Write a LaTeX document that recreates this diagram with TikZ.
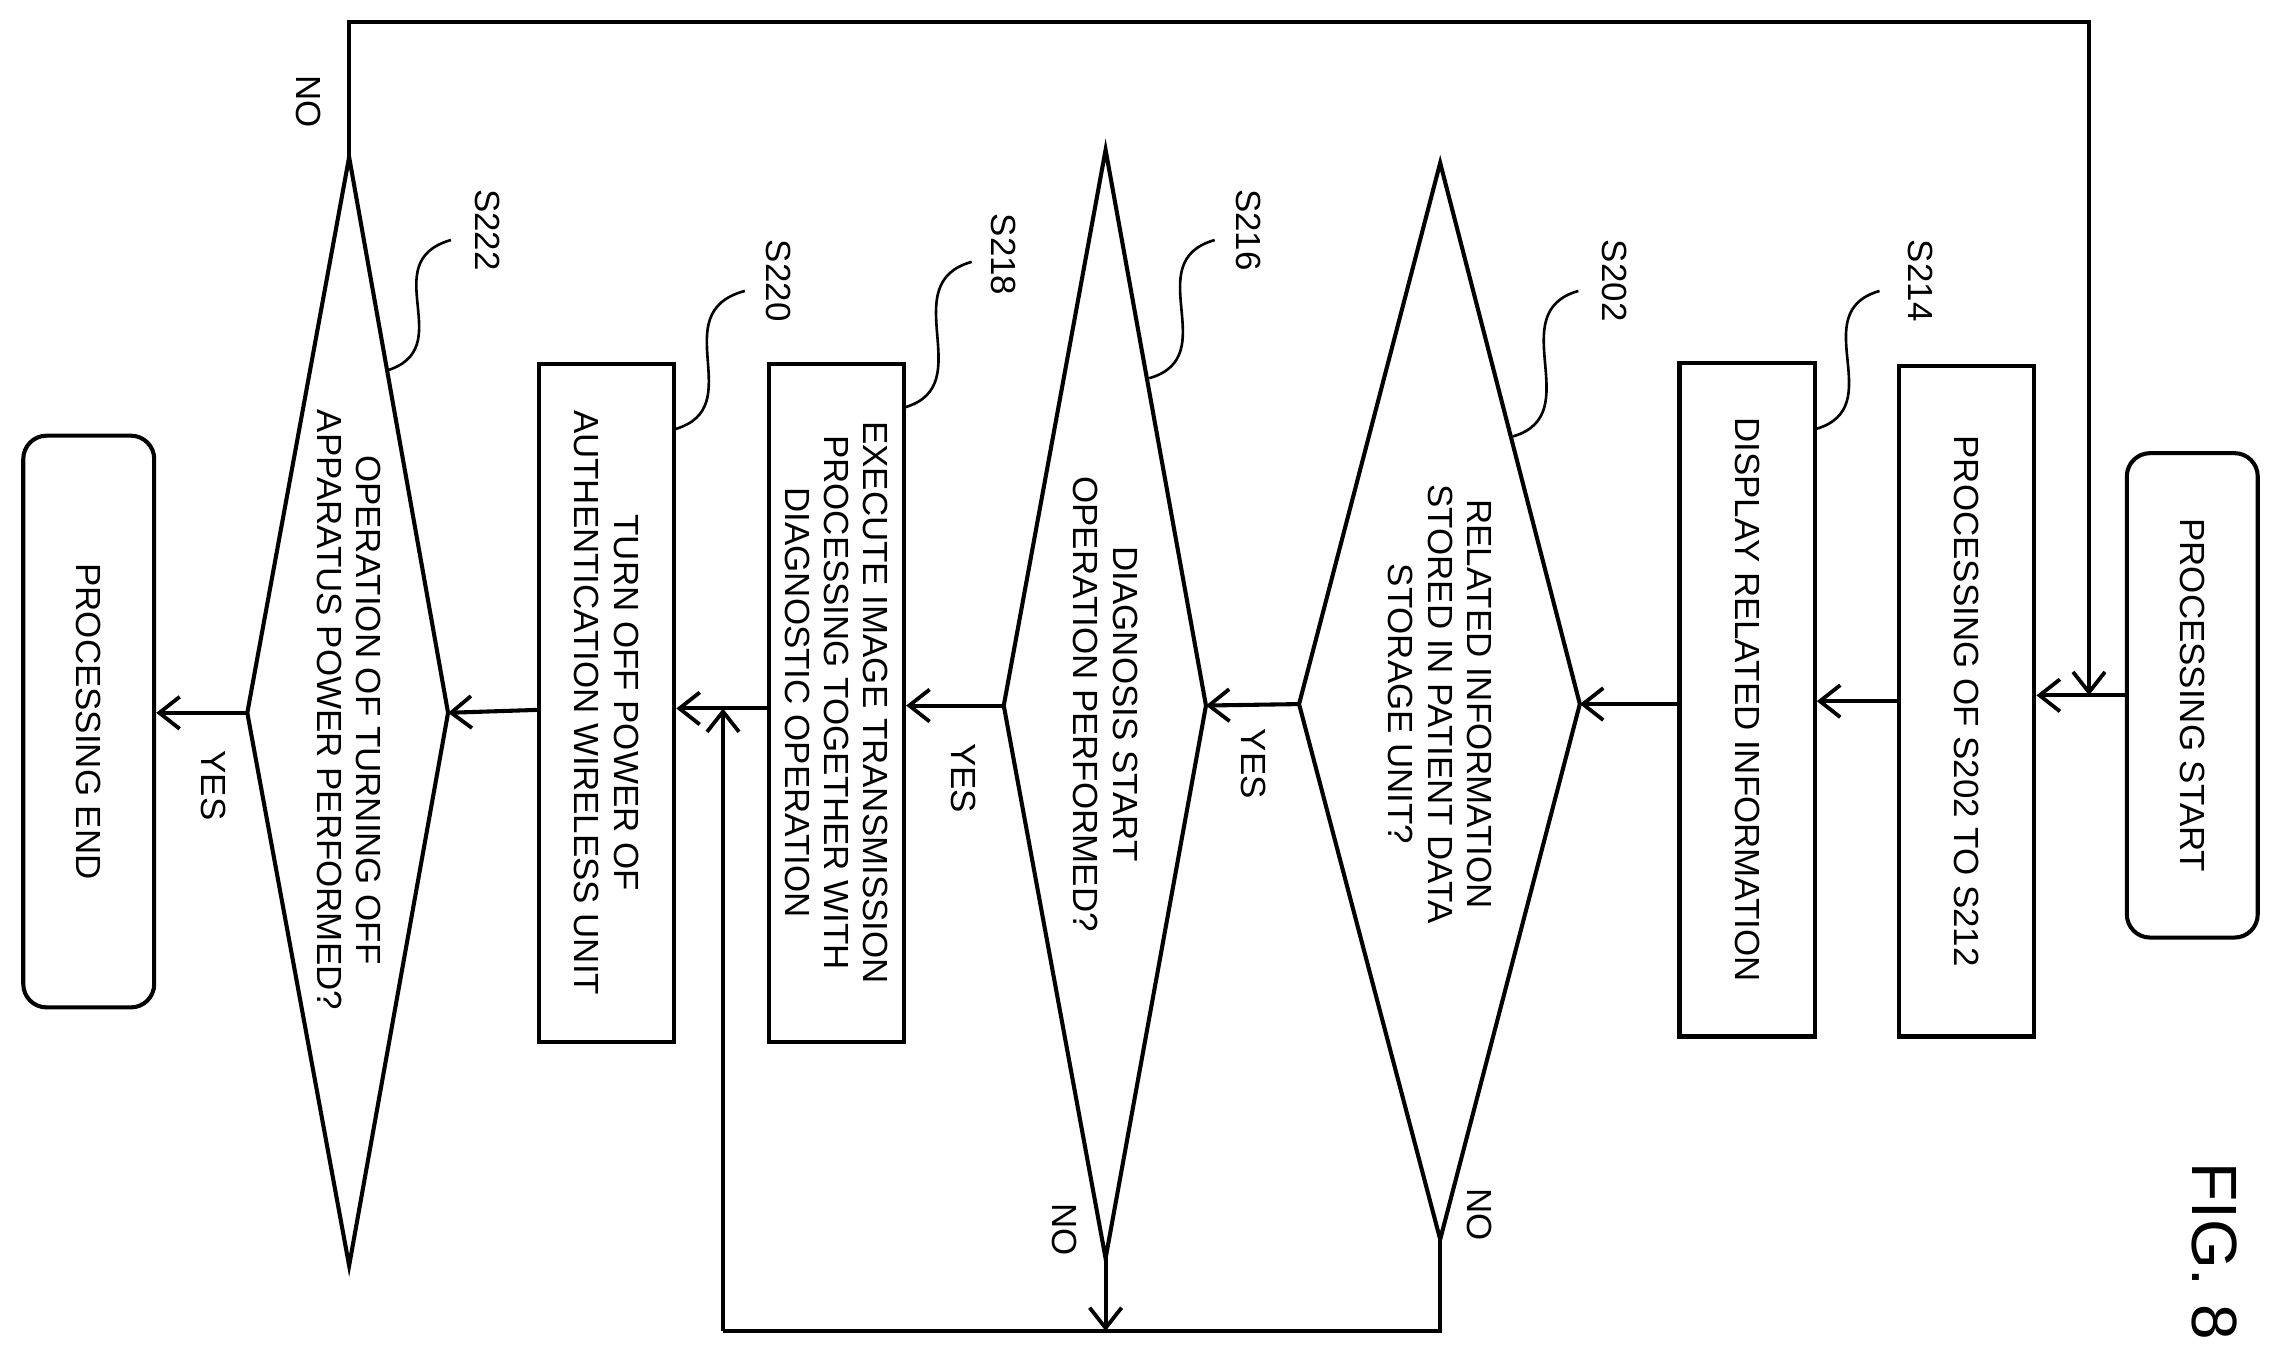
\documentclass[tikz,border=0pt]{standalone}
\usepackage{fontspec}
\setmainfont{Liberation Sans}
\usetikzlibrary{arrows.meta}
\begin{document}
\begin{tikzpicture}[x=1pt,y=-1pt,line width=2.8pt,
  txt/.style={rotate=-90,align=center,font=\fontsize{24}{27}\selectfont,inner sep=0},
  box/.style={draw,minimum width=93pt,minimum height=465pt},
  arr/.style={-{Straight Barb[length=14pt,width=22pt,line width=2.6pt]}},
  lab/.style={rotate=-90,font=\fontsize{24}{27}\selectfont,inner sep=0}]
\useasboundingbox (0,0) rectangle (1568,933);
% boxes
\node[box,rounded corners=16pt,minimum width=90pt,minimum height=333pt] (st) at (1507,478) {};
\node[txt] at (st) {PROCESSING START};
\node[box,minimum height=461pt] (p1) at (1352,482) {};
\node[txt] at (p1) {PROCESSING OF S202 TO S212};
\node[box,minimum height=463pt] (p2) at (1201,481) {};
\node[txt] at (p2) {DISPLAY RELATED INFORMATION};
\node[box,minimum height=466pt] (p3) at (575,483) {};
\node[txt] at (p3) {EXECUTE IMAGE TRANSMISSION\\PROCESSING TOGETHER WITH\\DIAGNOSTIC OPERATION};
\node[box,minimum height=466pt] (p4) at (417,483) {};
\node[txt] at (p4) {TURN OFF POWER OF\\AUTHENTICATION WIRELESS UNIT};
\node[box,rounded corners=16pt,minimum width=90pt,minimum height=393pt] (en) at (61,496) {};
\node[txt] at (en) {PROCESSING END};
% diamonds
\coordinate (d1t) at (990,112); \coordinate (d1b) at (990,852);
\coordinate (d1l) at (893,484); \coordinate (d1r) at (1086,484);
\draw (d1t)--(d1r)--(d1b)--(d1l)--cycle;
\node[txt] (d1) at (990,484) {RELATED INFORMATION\\STORED IN PATIENT DATA\\STORAGE UNIT?};
\coordinate (d2t) at (760,103); \coordinate (d2b) at (760,865);
\coordinate (d2l) at (690,485); \coordinate (d2r) at (829,485);
\draw (d2t)--(d2r)--(d2b)--(d2l)--cycle;
\node[txt] (d2) at (760,484) {DIAGNOSIS START\\OPERATION PERFORMED?};
\coordinate (d3t) at (240,108); \coordinate (d3b) at (240,870);
\coordinate (d3l) at (170,490); \coordinate (d3r) at (308,490);
\draw (d3t)--(d3r)--(d3b)--(d3l)--cycle;
\node[txt] (d3) at (240,488) {OPERATION OF TURNING OFF\\APPARATUS POWER PERFORMED?};
% flow
\draw[arr] (st.west |- 0,478) -- (p1.east |- 0,478);
\draw[arr] (p1.west |- 0,482) -- (p2.east |- 0,482);
\draw[arr] (p2.west |- 0,484) -- (d1r);
\draw[arr] (d1l) -- (d2r);
\draw[arr] (d2l) -- (p3.east |- d2l);
\draw[arr] (p3.west |- 0,487) -- (p4.east |- 0,487);
\draw[arr] (p4.west |- 0,488) -- (d3r);
\draw[arr] (d3l) -- (en.east |- d3l);
% NO loops
\coordinate (c1) at (990,915); \coordinate (c2) at (760,915); \coordinate (c3) at (497,915);
\coordinate (c4) at (497,487);
\draw (d1b) -- (c1) -- (c3);
\draw[arr] (d2b) -- (c2);
\draw[arr] (c3) -- (c4);
\coordinate (t1) at (240,15); \coordinate (t2) at (1436,15); \coordinate (t3) at (1436,478);
\draw[arr] (d3t) -- (t1) -- (t2) -- (t3);
% labels
\node[lab] at (862,525) {YES};
\node[lab] at (662,535) {YES};
\node[lab] at (147,540) {YES};
\node[lab] at (1017,835) {NO};
\node[lab] at (732,845) {NO};
\node[lab] at (212,70) {NO};
% step labels
\node[lab] at (1320,193) {S214};
\draw[line width=1.8pt] (1248,295) .. controls (1300,280) and (1240,215) .. (1292,200);
\node[lab] at (1110,193) {S202};
\draw[line width=1.8pt] (1040,300) .. controls (1092,285) and (1032,215) .. (1085,200);
\node[lab] at (858,158) {S216};
\draw[line width=1.8pt] (790,260) .. controls (842,245) and (782,180) .. (835,165);
\node[lab] at (690,175) {S218};
\draw[line width=1.8pt] (622,280) .. controls (674,265) and (614,195) .. (668,180);
\node[lab] at (535,193) {S220};
\draw[line width=1.8pt] (464,295) .. controls (516,280) and (456,215) .. (512,200);
\node[lab] at (335,158) {S222};
\draw[line width=1.8pt] (265,255) .. controls (317,240) and (257,180) .. (310,165);
\node[rotate=-90,font=\fontsize{44}{46}\selectfont,inner sep=0] at (1522,860) {FIG. 8};
\end{tikzpicture}
\end{document}
